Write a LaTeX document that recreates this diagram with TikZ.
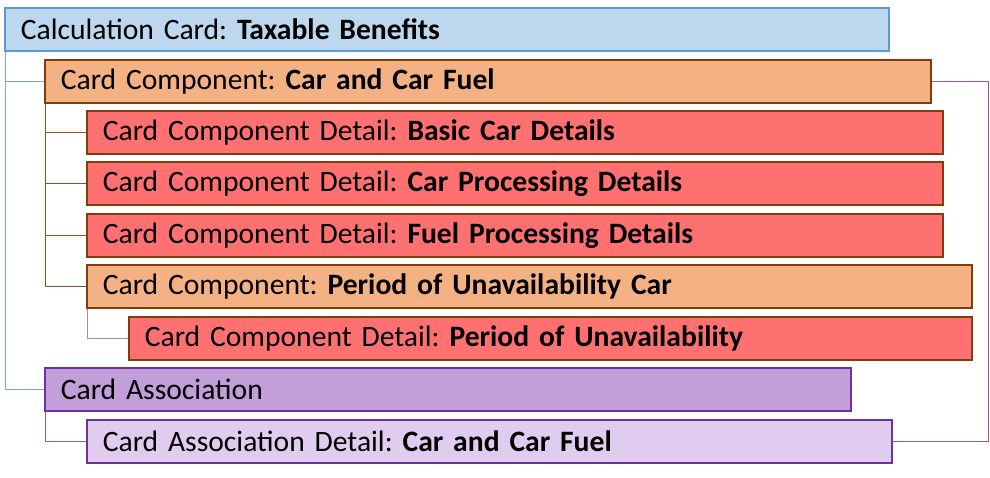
\documentclass[tikz,border=0pt]{standalone}
\usepackage{fontspec}
\setmainfont{Carlito}
\definecolor{cardblue}{HTML}{BDD7EE}
\definecolor{cardblueline}{HTML}{5B9BD5}
\definecolor{compfill}{HTML}{F4B183}
\definecolor{detfill}{HTML}{FF7171}
\definecolor{brownline}{HTML}{843C0C}
\definecolor{assocfill}{HTML}{C39FD9}
\definecolor{assocdetfill}{HTML}{E0CCEE}
\definecolor{purpleline}{HTML}{7030A0}
\frenchspacing
\begin{document}
\begin{tikzpicture}[x=1pt,y=-1pt,
  card/.style={draw,line width=1.6pt,anchor=north west,minimum height=43pt,
    inner xsep=16pt,inner ysep=0pt,align=left,text width=#1,
    font=\fontsize{29.6}{36}\selectfont},
  calcbox/.style={card=#1,fill=cardblue,draw=cardblueline},
  compbox/.style={card=#1,fill=compfill,draw=brownline},
  detbox/.style={card=#1,fill=detfill,draw=brownline},
  assocbox/.style={card=#1,fill=assocfill,draw=purpleline},
  assocdetbox/.style={card=#1,fill=assocdetfill,draw=purpleline},
  elbow/.style={to path={|- (\tikztotarget)}}]
      \useasboundingbox (0,0) rectangle (990,478);
      \node[calcbox=852pt] (calc) at (4,7) {Calculation Card: \textbf{Taxable Benefits}};
      \node[compbox=854pt] (comp) at (44,59) {Card Component: \textbf{Car and Car Fuel}};
      \node[detbox=824pt] (basic) at (86,110) {Card Component Detail: \textbf{Basic Car Details}};
      \node[detbox=824pt] (carproc) at (86,161) {Card Component Detail: \textbf{Car Processing Details}};
      \node[detbox=824pt] (fuelproc) at (86,213) {Card Component Detail: \textbf{Fuel Processing Details}};
      \node[compbox=853pt] (unavcar) at (86,264) {Card Component: \textbf{Period of Unavailability Car}};
      \node[detbox=811pt] (unav) at (128,316) {Card Component Detail: \textbf{Period of Unavailability}};
      \node[assocbox=774pt] (assoc) at (44,367) {Card Association};
      \node[assocdetbox=773pt] (assocdet) at (86,419) {Card Association Detail: \textbf{Car and Car Fuel}};
      \begin{scope}[every edge/.style={draw=cardblueline!85,line width=1pt,elbow}]
      \path ([xshift=1pt]calc.south west) edge (comp.west);
      \path ([xshift=1pt]calc.south west) edge (assoc.west);
      \end{scope}
      \begin{scope}[every edge/.style={draw=brownline!90,line width=0.8pt,elbow}]
      \path ([xshift=1pt]comp.south west) edge (basic.west);
      \path ([xshift=1pt]comp.south west) edge (carproc.west);
      \path ([xshift=1pt]comp.south west) edge (fuelproc.west);
      \path ([xshift=1pt]comp.south west) edge (unavcar.west);
      \path ([xshift=1pt]unavcar.south west) edge[draw=brownline!60] (unav.west);
      \end{scope}
      \begin{scope}[every edge/.style={draw=purpleline!80,line width=0.9pt}]
      \path ([xshift=1pt]assoc.south west) edge[elbow] (assocdet.west);
      \path (comp.east) edge[to path={-- ++(57,0) |- (\tikztotarget)}] (assocdet.east);
      \end{scope}
\end{tikzpicture}
\end{document}
